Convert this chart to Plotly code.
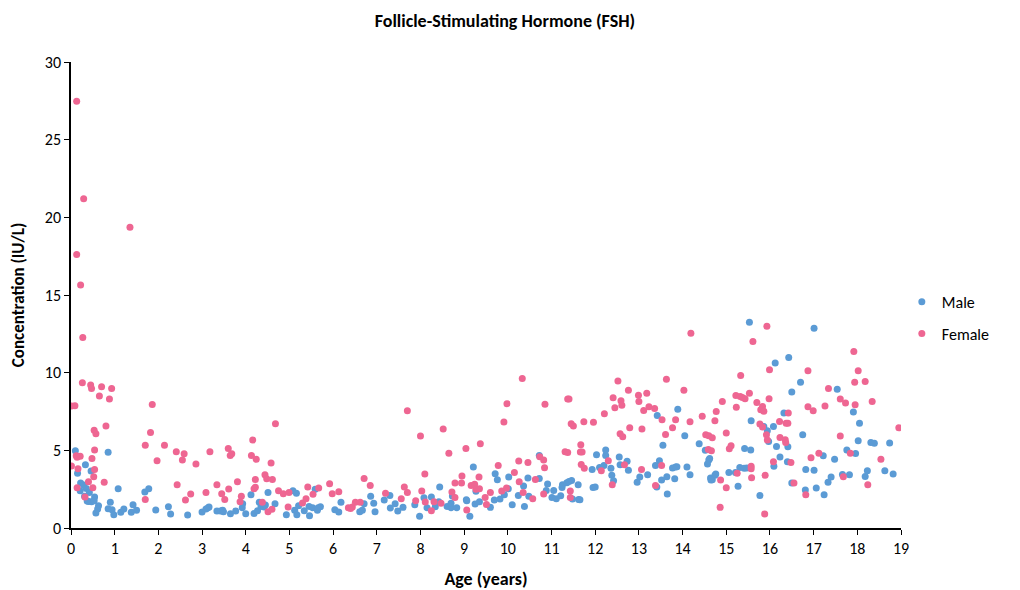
import plotly.graph_objects as go

male_age = [0.10,0.85,0.33,0.46,0.15,0.22,0.29,0.35,0.21,0.42,0.31,0.54,0.40,0.47,0.37,0.53,0.63,0.61,0.57,0.90,0.85,0.94,0.98,1.08,1.14,1.21,1.42,1.38,1.50,1.69,1.78,1.94,2.23,2.28,2.67,3.00,
            3.14,3.16,3.09,3.34,3.42,3.47,3.49,3.65,3.77,3.93,3.92,4.00,4.12,4.19,4.27,4.31,4.35,4.42,4.45,4.51,4.67,4.93,5.08,5.16,5.12,5.17,5.21,5.34,5.45,5.46,5.53,5.59,5.64,5.71,5.66,6.04,6.13,6.18,
            6.61,6.67,6.71,6.86,6.93,6.96,7.17,7.30,7.31,7.42,7.48,7.60,7.87,7.98,8.08,8.15,8.25,8.34,8.42,8.44,8.61,8.70,8.70,8.73,8.83,9.05,9.06,9.13,9.21,9.25,9.27,9.35,
            9.60,9.69,9.82,9.92,9.71,9.76,10.02,10.01,10.10,10.24,10.36,10.38,10.46,10.48,10.72,10.72,10.88,10.91,11.01,11.05,11.11,11.21,11.24,11.25,11.35,11.40,11.46,11.48,11.62,11.65,11.61,11.95,12.00,11.93,12.03,12.10,12.20,12.24,12.24,12.36,12.38,12.42,12.55,12.57,12.73,12.76,
            12.96,13.02,13.20,13.38,13.47,13.41,13.52,13.55,13.42,13.64,13.65,13.77,13.84,13.87,13.82,13.89,14.05,14.10,14.17,14.38,14.52,14.60,14.62,14.57,14.64,14.68,14.74,14.76,14.65,15.06,15.21,15.27,15.31,15.41,15.47,15.42,15.56,15.57,15.53,15.77,15.86,15.94,15.97,
            16.12,16.43,17.01,16.70,16.50,16.32,16.08,16.15,16.41,16.23,16.09,16.40,16.75,16.50,16.82,17.01,16.81,17.06,17.24,17.22,17.33,17.40,17.48,17.54,17.66,17.82,17.76,17.96,17.91,18.05,18.02,18.18,18.23,18.31,18.39,18.63,18.74,18.82]
male_fsh = [4.97,4.87,4.07,3.67,3.52,2.89,2.77,2.55,2.40,2.29,2.04,1.99,1.71,1.69,1.74,1.76,1.44,1.22,0.96,1.65,1.24,1.18,0.86,2.53,1.01,1.22,1.50,1.01,1.14,2.32,2.53,1.16,1.37,0.90,0.84,1.03,
            1.31,1.35,1.22,1.09,1.09,1.14,1.05,0.92,1.09,1.56,1.31,0.92,2.14,0.94,1.11,1.65,1.39,1.35,1.48,2.29,1.56,0.86,2.40,2.23,1.14,0.86,1.44,1.11,1.39,0.79,1.31,2.49,1.14,1.37,1.31,1.18,1.03,1.65,
            1.05,1.14,1.56,2.04,1.59,1.05,1.80,2.10,1.29,1.56,1.09,1.33,1.50,0.75,1.95,1.31,1.99,1.37,1.69,2.64,1.39,1.31,1.59,2.06,1.31,1.82,1.76,0.75,3.92,1.54,2.36,1.69,
            1.33,1.80,1.86,2.14,3.49,3.11,3.28,2.53,1.50,2.10,2.70,1.39,3.22,2.04,4.67,3.19,2.42,2.83,1.97,2.42,1.89,2.08,2.60,2.79,2.92,3.00,3.06,1.86,1.84,1.82,2.79,2.60,2.64,3.77,4.72,3.90,4.03,4.67,5.02,3.84,3.39,3.04,4.57,4.07,4.29,3.71,
            2.94,3.28,3.43,4.03,4.33,2.64,3.09,5.32,7.24,3.30,2.19,3.86,3.92,3.94,3.17,7.65,5.94,3.92,3.43,5.43,5.00,4.37,4.47,4.12,3.22,3.11,3.39,3.47,3.09,3.58,3.58,2.68,3.90,3.84,3.86,5.12,5.02,6.90,13.25,2.10,6.54,6.26,5.57,
            10.63,10.97,12.86,9.39,8.75,7.40,6.54,5.25,5.23,4.57,3.97,4.27,6.00,2.89,3.77,3.71,2.44,2.57,2.14,4.65,2.94,3.28,4.42,8.94,3.45,3.43,5.02,4.80,7.46,6.75,5.62,3.32,3.69,5.50,5.45,3.69,5.47,3.47]

female_age = [0.13,0.29,1.35,0.13,0.22,
              0.27,0.26,0.45,0.47,0.70,0.93,0.65,0.88,0.01,0.09,1.86,0.80,0.53,0.57,0.54,1.70,1.82,2.14,2.41,2.59,2.55,1.97,2.86,3.18,0.12,0.21,0.14,0.48,0.01,0.16,0.54,0.52,0.76,0.40,0.14,0.32,0.50,2.43,2.74,2.62,1.70,3.09,
              3.34,3.45,3.52,3.61,3.60,3.645,3.68,3.81,3.90,3.87,4.16,4.13,4.24,4.22,4.22,4.19,4.44,4.48,4.61,4.58,4.68,4.75,4.86,4.99,4.38,4.51,4.60,4.97,5.30,5.38,5.42,5.54,5.67,5.92,5.98,6.13,
              6.35,6.40,6.44,6.51,6.62,6.71,6.85,7.20,7.56,7.63,7.70,7.70,7.89,8.00,8.03,8.10,8.11,8.25,8.31,8.47,8.52,8.65,8.72,8.79,8.79,8.94,8.95,9.04,9.06,9.16,9.24,9.27,9.35,9.34,9.37,
              9.48,9.51,9.60,9.78,9.86,9.91,9.97,9.98,10.15,10.25,10.26,10.33,10.35,10.46,10.57,10.63,10.73,10.82,10.84,10.82,10.85,11.31,11.37,11.37,11.40,11.45,11.50,11.43,11.43,11.67,11.66,11.70,11.68,11.75,11.74,11.96,12.14,12.21,12.30,12.39,12.41,12.45,12.52,12.59,12.61,12.57,12.63,12.67,12.76,12.79,
              12.99,13.00,13.07,13.11,13.18,13.23,13.36,13.06,13.38,13.52,13.53,13.61,13.63,13.77,13.84,14.03,14.17,14.19,14.45,14.53,14.60,14.68,14.59,14.66,14.74,14.77,14.91,15.00,15.07,15.11,14.87,15.00,14.86,15.22,15.23,15.32,15.37,15.43,15.33,15.53,15.61,15.70,15.79,15.83,15.86,15.77,15.83,15.92,15.94,15.93,15.98,15.99,15.25,15.57,15.57,15.58,15.89,15.88,
              16.22,16.37,16.41,16.42,16.23,16.35,16.36,16.08,16.48,16.55,16.82,16.87,16.87,16.99,16.94,17.12,17.26,17.34,17.61,17.73,17.61,17.68,17.84,17.92,18.02,17.94,18.18,17.95,18.34,18.54,18.24,18.95]
female_fsh = [27.48,21.20,19.36,17.60,15.65,
              12.26,9.35,9.20,8.98,9.09,8.98,8.49,8.30,7.85,7.87,7.95,6.56,6.30,6.07,5.02,5.32,6.15,5.32,4.91,4.78,4.37,4.33,4.12,4.91,4.65,4.62,4.55,4.48,3.99,3.82,3.77,3.30,2.94,2.98,2.59,1.99,2.59,2.79,2.19,1.80,1.84,2.29,
              2.79,2.21,1.84,2.51,5.12,4.67,4.78,2.98,2.04,1.69,5.66,4.67,4.42,3.13,2.62,2.53,3.43,3.17,3.13,4.18,6.71,2.40,2.21,2.29,1.65,1.05,1.20,1.35,1.61,1.89,2.64,2.17,2.57,2.85,2.21,2.34,
              1.30,1.25,1.35,1.65,1.65,3.19,2.74,2.23,1.89,2.64,2.29,7.55,1.76,5.92,2.38,3.47,1.67,1.11,1.69,1.59,6.37,4.82,2.32,1.97,2.89,2.89,3.34,5.12,1.16,2.74,2.81,2.49,2.53,3.28,5.42,
              1.97,1.52,2.29,4.03,2.38,6.82,2.57,8.00,3.58,4.31,2.98,9.62,2.29,4.22,1.89,3.13,4.59,4.37,3.88,2.19,7.96,4.91,4.86,8.30,8.30,6.71,6.56,2.38,1.97,5.36,4.89,4.89,4.09,3.84,6.84,6.80,3.69,7.35,4.33,2.79,8.38,7.74,9.47,8.20,7.90,6.07,5.87,4.07,8.87,6.45,
              8.55,8.15,6.37,7.57,8.68,7.80,7.70,3.77,2.74,4.03,6.97,6.02,9.58,6.45,6.97,8.87,6.84,12.53,7.20,6.00,5.94,5.81,5.06,4.97,6.90,7.50,8.15,6.11,5.10,5.30,3.09,2.59,1.33,8.53,7.78,8.47,8.40,8.32,9.82,8.68,12.00,8.08,7.61,7.82,7.52,6.69,6.50,6.00,5.66,12.99,8.32,10.18,3.52,3.97,3.82,3.24,3.39,0.90,
              6.86,6.75,6.75,7.40,5.83,5.68,5.51,4.27,4.22,2.89,2.14,10.12,7.80,7.55,4.52,4.82,7.85,8.98,8.30,8.04,5.92,3.30,4.82,11.36,10.12,9.39,9.43,7.93,8.15,4.42,2.79,6.45]

FONT = "Calibri, Carlito, 'Liberation Sans Narrow', 'Open Sans', sans-serif"

fig = go.Figure()
fig.add_trace(go.Scatter(x=male_age, y=male_fsh, mode="markers", name="Male", legendgroup="m",
                         marker=dict(color="#5B9BD5", size=7)))
fig.add_trace(go.Scatter(x=female_age, y=female_fsh, mode="markers", name="Female", legendgroup="f",
                         marker=dict(color="#EE6692", size=7)))

fig.update_layout(
    width=1012, height=582,
    paper_bgcolor="white", plot_bgcolor="white",
    margin=dict(l=63, r=119, t=54, b=62, autoexpand=False),
    font=dict(family=FONT, size=14, color="black"),
    title=dict(text="<b>Follicle-Stimulating Hormone (FSH)</b>", x=0.491, xanchor="center",
               y=0.979, yanchor="middle", font=dict(family=FONT, size=18, color="black")),
    legend=dict(x=1.001, y=0.451, xanchor="left", yanchor="middle", bgcolor="rgba(0,0,0,0)",
                font=dict(family=FONT, size=16, color="black"), itemsizing="trace",
                tracegroupgap=8),
    showlegend=True,
)
fig.update_xaxes(range=[0, 19], tickvals=list(range(20)), showline=True, linecolor="black", linewidth=1.5,
                 ticks="outside", ticklen=5, tickcolor="black", showgrid=False, zeroline=False, automargin=False,
                 tickfont=dict(family=FONT, size=16, color="black"),
                 title=dict(text="<b>Age (years)</b>", font=dict(family=FONT, size=18, color="black"), standoff=15))
fig.update_yaxes(range=[0, 30], tickvals=[0, 5, 10, 15, 20, 25, 30], showline=True, linecolor="black", linewidth=1.5,
                 ticks="outside", ticklen=5, tickcolor="black", showgrid=False, zeroline=False, automargin=False,
                 tickfont=dict(family=FONT, size=16, color="black"),
                 title=dict(text="<b>Concentration (IU/L)</b>", font=dict(family=FONT, size=17, color="black"), standoff=18))

fig.write_html("out.html")
